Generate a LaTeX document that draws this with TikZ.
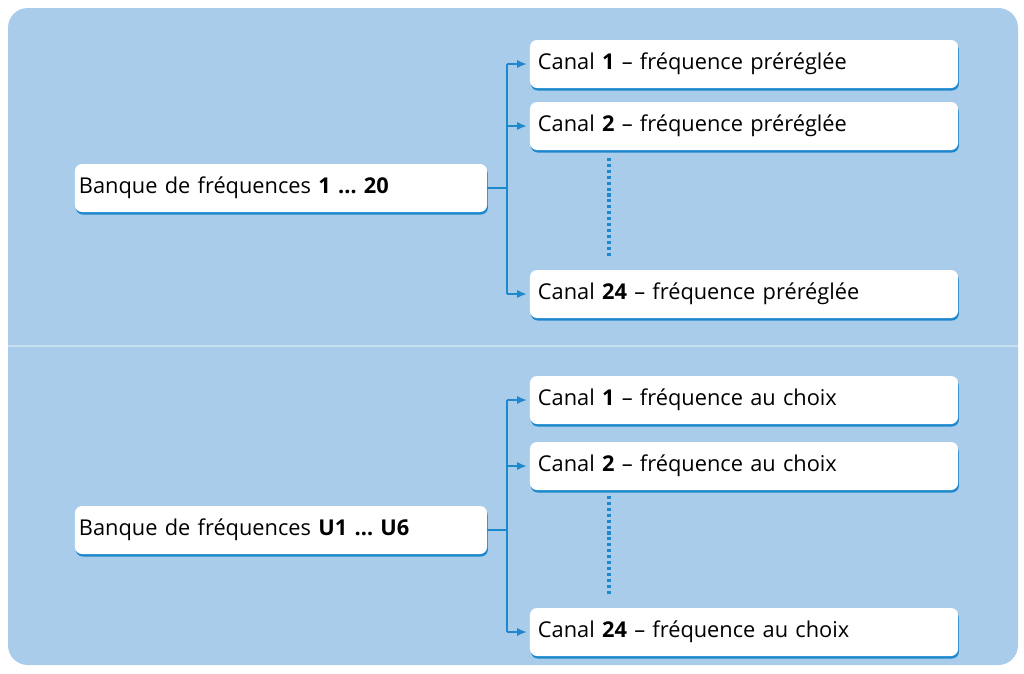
\documentclass[tikz,border=0pt]{standalone}
\usepackage{fontspec}
\setmainfont{Open Sans}
\usetikzlibrary{positioning,shadows,arrows.meta}
\definecolor{panelblue}{HTML}{A9CCEB}
\definecolor{linkblue}{HTML}{1E88CC}
\definecolor{dividerblue}{HTML}{C9E0F3}
\tikzset{
  box/.style={fill=white, rounded corners=5pt, minimum height=1.2cm, inner sep=0pt,
    text width=#1, align=left, font=\fontsize{15.5}{18}\selectfont,
    drop shadow={shadow xshift=0.6pt, shadow yshift=-1.8pt, opacity=1, fill=linkblue}},
  bank/.style={box=10.1cm, minimum width=10.3cm},
  chan/.style={box=10.3cm, minimum width=10.7cm},
  link/.style={linkblue, line width=1.8pt},
  feed/.style={link, -{Latex[length=7pt,width=6pt]}},
}
\begin{document}
\begin{tikzpicture}[x=0.025cm, y=-0.025cm]
    \useasboundingbox (0,0) rectangle (1024,673);
    \fill[panelblue, rounded corners=14pt] (8,8) rectangle (1018,665);
    \draw[dividerblue, line width=1pt] (8,346) -- (1018,346);

    % preset bank
    \node[bank] (bankA) at (281,188) {Banque de fréquences \textbf{1 \dots\ 20}};
    \node[chan] (a1) at (744,64) {Canal \textbf{1} -- fréquence préréglée};
    \node[chan] (a2) at (744,126) {Canal \textbf{2} -- fréquence préréglée};
    \node[chan] (a24) at (744,294) {Canal \textbf{24} -- fréquence préréglée};
    \coordinate (forkA) at (507,188);
    \draw[link] (bankA.east) -- (forkA);
    \draw[link] (forkA |- a1.west) -- (forkA |- a24.west);
    \foreach \c in {a1,a2,a24}
      \draw[feed] (forkA |- \c.west) -- ([xshift=-2pt]\c.west);
    \draw[link, line width=2.2pt, dotted] (609,158) -- (609,258);

    % user bank
    \node[bank] (bankU) at (281,530) {Banque de fréquences \textbf{U1 \dots\ U6}};
    \node[chan] (u1) at (744,400) {Canal \textbf{1} -- fréquence au choix};
    \node[chan] (u2) at (744,466) {Canal \textbf{2} -- fréquence au choix};
    \node[chan] (u24) at (744,632) {Canal \textbf{24} -- fréquence au choix};
    \coordinate (forkU) at (507,530);
    \draw[link] (bankU.east) -- (forkU);
    \draw[link] (forkU |- u1.west) -- (forkU |- u24.west);
    \foreach \c in {u1,u2,u24}
      \draw[feed] (forkU |- \c.west) -- ([xshift=-2pt]\c.west);
    \draw[link, line width=2.2pt, dotted] (609,496) -- (609,596);
\end{tikzpicture}
\end{document}
